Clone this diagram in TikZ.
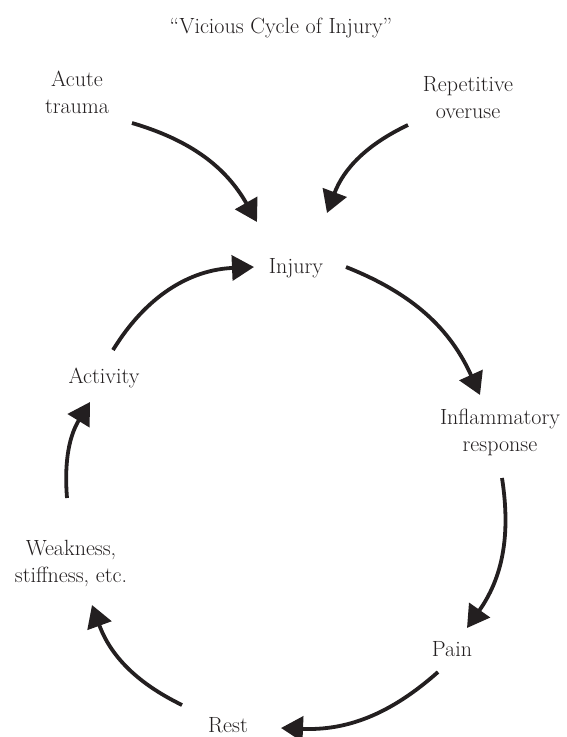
\documentclass[tikz,border=0pt]{standalone}
\usetikzlibrary{arrows.meta}
\definecolor{ink}{HTML}{231F20}
\begin{document}
\begin{tikzpicture}[x=1pt,y=1pt,
  lbl/.style={inner sep=0pt,anchor=base,align=center,text=ink,font=\fontsize{22}{27}\selectfont},
  cyc/.style={draw=ink,line width=3.8pt,-{Triangle[length=22pt,width=25pt]}}]
\useasboundingbox (0,0) rectangle (567,-737);
\node[lbl] (title) at (281,-33) {``Vicious Cycle of Injury''};
\node[lbl] (acute) at (77,-113) {Acute\\trauma};
\node[lbl] (rep) at (468,-118) {Repetitive\\overuse};
\node[lbl] (injury) at (296,-273) {Injury};
\node[lbl] (infl) at (500,-451) {Inflammatory\\response};
\node[lbl] (pain) at (452,-656) {Pain};
\node[lbl] (rest) at (228,-732) {Rest};
\node[lbl] (weak) at (71,-582) {Weakness,\\stiffness, etc.};
\node[lbl] (act) at (104,-383) {Activity};
\coordinate (a1s) at (132,-123); \coordinate (a1e) at (257,-222);
\coordinate (a2s) at (408,-125); \coordinate (a2e) at (327,-213);
\coordinate (a3s) at (346,-267); \coordinate (a3e) at (480,-395);
\coordinate (a4s) at (502,-478); \coordinate (a4e) at (467,-628);
\coordinate (a5s) at (438,-672); \coordinate (a5e) at (281,-728);
\coordinate (a6s) at (182,-705); \coordinate (a6e) at (92,-605);
\coordinate (a7s) at (67,-498);  \coordinate (a7e) at (90,-402);
\coordinate (a8s) at (113,-350); \coordinate (a8e) at (254,-267);
\draw[cyc] (a1s) to[bend left=22] (a1e);
\draw[cyc] (a2s) to[bend right=22] (a2e);
\draw[cyc] (a3s) to[bend left=22] (a3e);
\draw[cyc] (a4s) to[bend left=22] (a4e);
\draw[cyc] (a5s) to[bend left=22] (a5e);
\draw[cyc] (a6s) to[bend left=22] (a6e);
\draw[cyc] (a7s) to[bend left=18] (a7e);
\draw[cyc] (a8s) to[bend left=28] (a8e);
\end{tikzpicture}
\end{document}
